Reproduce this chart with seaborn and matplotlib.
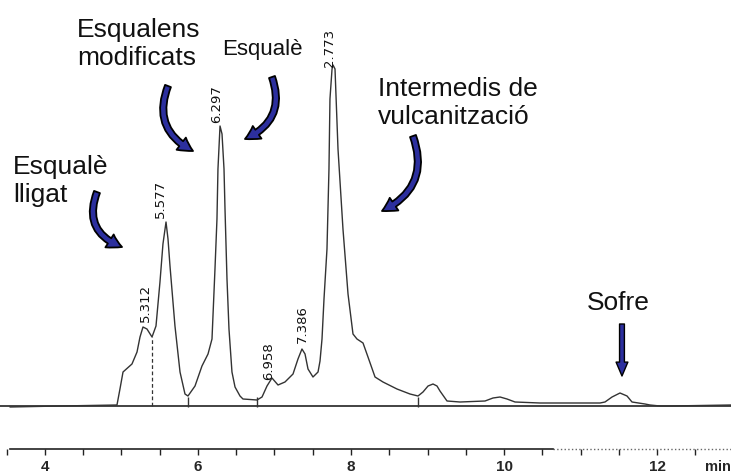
import matplotlib
matplotlib.use("Agg")
import matplotlib.pyplot as plt
from matplotlib.ticker import MultipleLocator
import pandas as pd
import seaborn as sns

# Chromatogram trace: retention time (min) and signal (arb. units)
time_min = [3.542, 4.196, 4.941, 4.980, 5.020, 5.137, 5.203, 5.242, 5.281, 5.333,
            5.399, 5.451, 5.503, 5.542, 5.582, 5.608, 5.634, 5.699, 5.765, 5.830,
            5.869, 5.961, 6.052, 6.131, 6.183, 6.222, 6.248, 6.261, 6.288, 6.314,
            6.340, 6.353, 6.379, 6.405, 6.444, 6.484, 6.549, 6.588, 6.771, 6.837,
            6.902, 6.967, 7.046, 7.137, 7.242, 7.307, 7.359, 7.399, 7.438, 7.503,
            7.569, 7.595, 7.621, 7.647, 7.686, 7.712, 7.725, 7.752, 7.765, 7.791,
            7.830, 7.895, 7.961, 8.026, 8.078, 8.157, 8.222, 8.314, 8.418, 8.601,
            8.771, 8.876, 8.941, 9.007, 9.072, 9.124, 9.163, 9.255, 9.425, 9.752,
            9.856, 9.948, 10.039, 10.144, 10.471, 11.255, 11.320, 11.412, 11.516, 11.608,
            11.673, 11.843, 11.908, 12.039, 12.170, 12.967]
signal = [-1, 0, 1, 17, 34, 42, 54, 69, 79, 77,
          69, 80, 124, 162, 184, 167, 140, 80, 34, 12,
          10, 20, 40, 52, 67, 137, 187, 237, 280, 272,
          237, 197, 127, 77, 34, 19, 10, 7, 6, 9,
          20, 28, 21, 24, 32, 47, 57, 52, 37, 29,
          34, 45, 67, 107, 157, 237, 307, 337, 341, 337,
          257, 177, 112, 72, 67, 63, 49, 29, 24, 17,
          12, 10, 14, 20, 22, 20, 15, 5, 4, 5,
          8, 9, 7, 4, 3, 3, 4, 9, 13, 10,
          4, 2, 1, 0, 0, 1]

# retention-time labels printed by the integrator
peak_labels = ["5.312", "5.577", "6.297", "6.958", "7.386", "2.773"]
label_time = [5.307, 5.503, 6.248, 6.928, 7.359, 7.725]
label_height = [85, 189, 284, 27, 64, 340]

# integration marks
drop_time = [5.399]
drop_height = [69]
mark_time = [5.869, 6.771, 8.876]
mark_height = [4, 4, 4]

df = pd.DataFrame({"time": time_min, "signal": signal})

sns.set_theme(style="white")
plt.rcParams["font.family"] = ["Liberation Sans", "DejaVu Sans"]

fig = plt.figure(figsize=(7.31, 4.77), dpi=100)
ax = fig.add_axes([0, 27 / 477, 1, 450 / 477])

sns.lineplot(data=df, x="time", y="signal", ax=ax, color="#333333",
             linewidth=1.0, estimator=None, sort=False)
ax.axhline(0, color="#222222", linewidth=1.2, zorder=1)
ax.vlines(drop_time, 0, drop_height, colors="#333333", linestyles=(0, (3, 2)), linewidth=0.9)
ax.plot(mark_time, mark_height, linestyle="none", marker="|", markersize=7,
        color="#333333", markeredgewidth=1.0)

for lab, t, h in zip(peak_labels, label_time, label_height):
    ax.text(t, h, lab, rotation=90, ha="center", va="bottom", fontsize=9.5,
            family="DejaVu Sans", color="#111111")

ax.set_xlim(3.412, 12.967)
ax.set_ylim(-43, 407)
ax.set_xlabel("")
ax.set_ylabel("")
ax.set_yticks([])
for side in ["top", "right", "left"]:
    ax.spines[side].set_visible(False)
ax.spines["bottom"].set_color("#222222")
ax.spines["bottom"].set_linewidth(1.2)
ax.spines["bottom"].set_bounds(3.54, 10.64)
ax.plot([10.64, 12.967], [-43, -43], linestyle=":", color="#666666",
        linewidth=1.0, clip_on=False)

ax.xaxis.set_major_locator(MultipleLocator(2))
ax.xaxis.set_minor_locator(MultipleLocator(0.5))
ax.tick_params(axis="x", which="both", direction="out", length=4, width=1,
               color="#222222", bottom=True, pad=3)
for lab in ax.get_xticklabels():
    lab.set_fontweight("bold")
    lab.set_fontsize(11)
fig.text(705 / 731, 1 - 467 / 477, "min", fontsize=10.5, fontweight="bold",
         va="center", ha="left")

# annotations (multi-line texts are placed by the baseline of their last line)
text_kw = dict(fontsize=19, color="#111111", ha="left", va="baseline")
ax.text(4.418, 342, "Esqualens\nmodificats", **text_kw)
ax.text(3.582, 205, "Esqualè\nlligat", **text_kw)
ax.text(8.353, 283, "Intermedis de\nvulcanització", **text_kw)
ax.text(11.085, 97, "Sofre", **text_kw)
ax.text(6.314, 352, "Esqualè", fontsize=16, color="#111111", ha="left", va="baseline")

arrow_blue = "#2c2f9e"
ribbon = "simple,head_length=1.0,head_width=1.1,tail_width=0.45"
curved = [((4.680, 214), (5.007, 159), 0.5),
          ((5.608, 320), (5.935, 255), 0.45),
          ((6.967, 329), (6.614, 267), -0.46),
          ((8.810, 270), (8.405, 195), -0.45)]
for start, end, rad in curved:
    ax.annotate("", xy=end, xytext=start,
                arrowprops=dict(arrowstyle=ribbon, fc=arrow_blue, ec="black", lw=1.3,
                                mutation_scale=10, shrinkA=0, shrinkB=0,
                                connectionstyle=f"arc3,rad={rad}"))
ax.annotate("", xy=(11.542, 30), xytext=(11.542, 82),
            arrowprops=dict(arrowstyle="simple,head_length=1.0,head_width=0.85,tail_width=0.35",
                            fc=arrow_blue, ec="black", lw=1.0, mutation_scale=10,
                            shrinkA=0, shrinkB=0))

fig.savefig("out.png", dpi=100)
